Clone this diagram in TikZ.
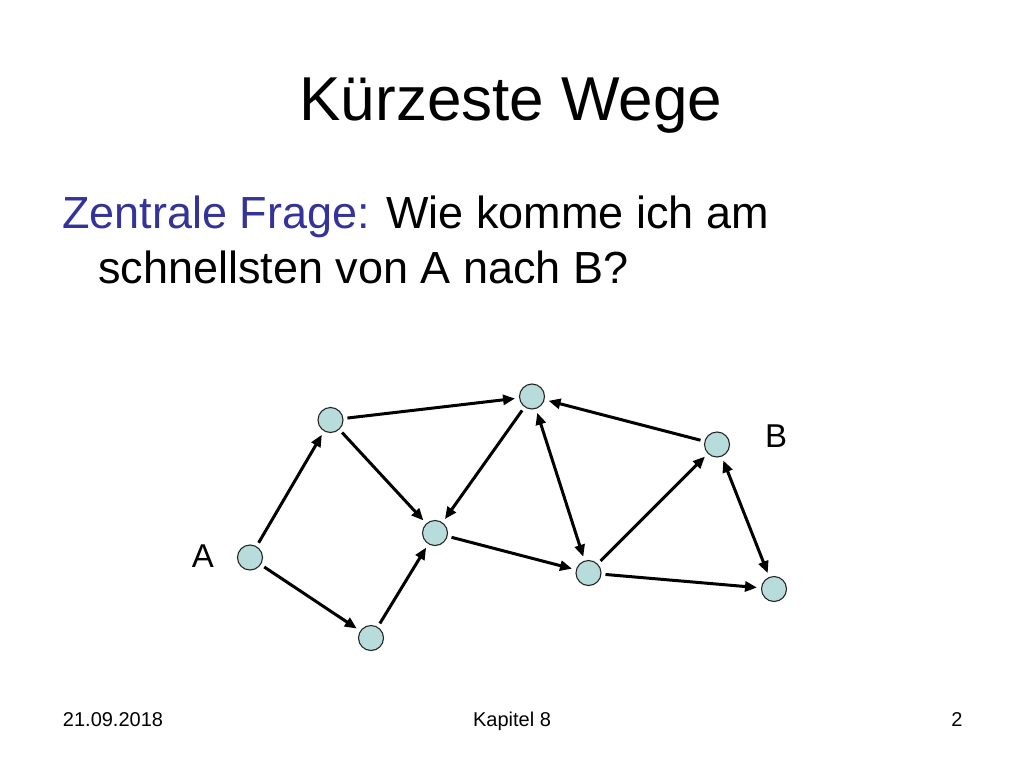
\documentclass[tikz,border=0pt]{standalone}
\usepackage{fontspec}
\setmainfont{Liberation Sans}
\usetikzlibrary{arrows.meta}
\definecolor{nodefill}{RGB}{184,220,220}
\definecolor{qblue}{RGB}{51,51,153}
\tikzset{
  vertex/.style={circle, draw=black!85, line width=1.1pt, fill=nodefill, minimum size=25pt, inner sep=0pt},
  edge/.style={line width=3pt, -{Triangle[length=12pt,width=10pt]}, shorten >=4pt, shorten <=4pt},
  biedge/.style={line width=3pt, {Triangle[length=12pt,width=10pt]}-{Triangle[length=12pt,width=10pt]}, shorten >=4pt, shorten <=4pt},
  lbl/.style={font=\fontsize{33}{40}\selectfont, inner sep=0pt},
  foot/.style={font=\fontsize{20}{24}\selectfont, inner sep=0pt, anchor=base}
}
\begin{document}
\begin{tikzpicture}[x=1pt,y=-1pt]
\useasboundingbox (0,0) rectangle (1024,768);
\fill[white] (0,0) rectangle (1024,768);
% title
\node[anchor=base, inner sep=0pt, font=\fontsize{62}{74}\selectfont] (title) at (511,120) {Kürzeste Wege};
% body
\node[anchor=base west, inner sep=0pt, font=\fontsize{45}{54}\selectfont] (q1) at (62,228) {\textcolor{qblue}{Zentrale Frage:} Wie komme ich am};
\node[anchor=base west, inner sep=0pt, font=\fontsize{45}{54}\selectfont] (q2) at (98,283) {schnellsten von A nach B?};
% graph nodes
\node[vertex] (a) at (250,557.5) {};
\node[vertex] (n1) at (330.5,420) {};
\node[vertex] (n2) at (371,638) {};
\node[vertex] (n3) at (435,533) {};
\node[vertex] (n4) at (532,396.5) {};
\node[vertex] (n5) at (588.5,573) {};
\node[vertex] (b) at (717,444.5) {};
\node[vertex] (n7) at (774,589) {};
\node[lbl] (la) at (203,556) {A};
\node[lbl] (lb) at (776,436) {B};
% edges
\draw[edge] (a) -- (n1);
\draw[edge] (a) -- (n2);
\draw[edge] (n1) -- (n4);
\draw[edge] (n1) -- (n3);
\draw[edge] (n2) -- (n3);
\draw[edge] (n4) -- (n3);
\draw[edge] (n3) -- (n5);
\draw[biedge] (n4) -- (n5);
\draw[edge] (b) -- (n4);
\draw[edge] (n5) -- (b);
\draw[edge] (n5) -- (n7);
\draw[biedge] (b) -- (n7);
% footer
\node[foot] (date) at (113,726) {21.09.2018};
\node[foot] (kap) at (512,726) {Kapitel 8};
\node[foot] (page) at (957,726) {2};
\end{tikzpicture}
\end{document}
